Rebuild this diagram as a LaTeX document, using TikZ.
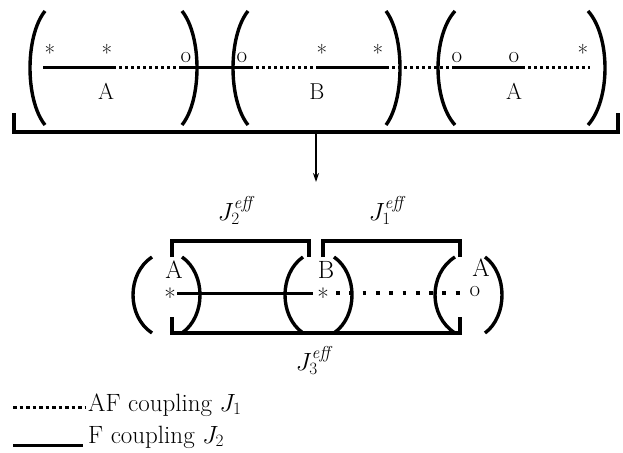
\documentclass[tikz,border=0pt]{standalone}
\usetikzlibrary{arrows.meta}
\newcommand\myparen[4]{\draw[paren] (#1,#3) .. controls ({#1+1.333*(#2-#1)},{#3+0.22*(#4-#3)}) and ({#1+1.333*(#2-#1)},{#3+0.78*(#4-#3)}) .. (#1,#4);}
\begin{document}
\begin{tikzpicture}[x=1pt,y=-1pt,
  paren/.style={line width=3.4pt},
  fbond/.style={line width=3pt},
  afbond/.style={line width=3pt, dash pattern=on 3.2pt off 2.8pt},
  afloose/.style={line width=3.2pt, dash pattern=on 3.8pt off 9.5pt},
  brk/.style={line width=3.2pt},
  lbl/.style={inner sep=0pt, anchor=base, font=\fontsize{23}{27}\selectfont},
  lblb/.style={inner sep=0pt, anchor=base, font=\fontsize{25}{30}\selectfont},
  lgd/.style={inner sep=0pt, anchor=base west, font=\fontsize{25}{30}\selectfont}]
\useasboundingbox (0,0) rectangle (623,452);
% ---------- top row ----------
\myparen{45}{30}{11}{125}
\myparen{182}{197}{11}{125}
\myparen{248}{233}{11}{125}
\myparen{386}{400}{11}{125}
\myparen{455}{438}{11}{125}
\myparen{588}{605}{11}{125}
\coordinate (t0) at (43,67);
\coordinate (t1) at (113,67);
\coordinate (t2) at (180,67);
\coordinate (t3) at (250,67);
\coordinate (t4) at (317,67);
\coordinate (t5) at (386,67);
\coordinate (t6) at (452,67);
\coordinate (t7) at (522,67);
\coordinate (t8) at (590,67);
\draw[fbond] (t0) -- (t1);
\draw[afbond] (t1) -- (t2);
\draw[fbond] (t2) -- (t3);
\draw[afbond] (t3) -- (t4);
\draw[fbond] (t4) -- (t5);
\draw[afbond] (t5) -- (t6);
\draw[fbond] (t6) -- (t7);
\draw[afbond] (t7) -- (t8);
\node[lbl] (s1) at (50,62) {*};
\node[lbl] (s2) at (107,62) {*};
\node[lbl] (o1) at (186,63) {o};
\node[lbl] (o2) at (242,63) {o};
\node[lbl] (s3) at (322,62) {*};
\node[lbl] (s4) at (378,62) {*};
\node[lbl] (o3) at (457,63) {o};
\node[lbl] (o4) at (514,63) {o};
\node[lbl] (s5) at (583,62) {*};
\node[lbl] (la1) at (106,99) {A};
\node[lbl] (lb1) at (317,99) {B};
\node[lbl] (la2) at (514,99) {A};
% big bracket and arrow
\coordinate (k1) at (14,113);
\coordinate (k2) at (14,132);
\coordinate (k3) at (618,132);
\coordinate (k4) at (618,113);
\draw[brk] (k1) -- (k2) -- (k3) -- (k4);
\coordinate (am) at (316,132);
\coordinate (ae) at (316,182);
\draw[line width=1.6pt, -{Stealth[length=9pt,width=6pt]}] (am) -- (ae);
% ---------- bottom row ----------
\myparen{152}{133}{257}{333}
\myparen{182}{200}{257}{333}
\myparen{303}{285}{257}{333}
\myparen{334}{352}{257}{333}
\myparen{455}{435}{257}{333}
\myparen{485}{502}{257}{333}
\coordinate (c1) at (172,257);
\coordinate (c2) at (172,241);
\coordinate (c3) at (309,241);
\coordinate (c4) at (309,257);
\coordinate (d1) at (323,257);
\coordinate (d2) at (323,241);
\coordinate (d3) at (460,241);
\coordinate (d4) at (460,257);
\coordinate (e1) at (172,317);
\coordinate (e2) at (172,333);
\coordinate (e3) at (460,333);
\coordinate (e4) at (460,317);
\draw[brk] (c1) -- (c2) -- (c3) -- (c4);
\draw[brk] (d1) -- (d2) -- (d3) -- (d4);
\draw[brk] (e1) -- (e2) -- (e3) -- (e4);
\coordinate (b0) at (177,293);
\coordinate (b1) at (313,293);
\coordinate (b2) at (336,293);
\coordinate (b3) at (465,293);
\draw[fbond] (b0) -- (b1);
\draw[afloose] (b2) -- (b3);
\node[lblb] (ba1) at (174,278) {A};
\node[lblb] (bb1) at (326,278) {B};
\node[lblb] (ba2) at (481,276) {A};
\node[lblb] (bs1) at (170,306) {*};
\node[lblb] (bs2) at (323,306) {*};
\node[lbl] (bo1) at (475,296) {o};
\node[lblb] (j2) at (237,220) {$J_2^{\mathit{eff}}$};
\node[lblb] (j1) at (388,220) {$J_1^{\mathit{eff}}$};
\node[lblb] (j3) at (315,370) {$J_3^{\mathit{eff}}$};
% ---------- legend ----------
\coordinate (g1) at (13,407);
\coordinate (g2) at (86,407);
\coordinate (h1) at (13,445);
\coordinate (h2) at (83,445);
\draw[line width=3pt, dash pattern=on 3.5pt off 3pt] (g1) -- (g2);
\draw[fbond] (h1) -- (h2);
\node[lgd] (lg1) at (88,411) {AF coupling $J_1$};
\node[lgd] (lg2) at (88,443) {F coupling $J_2$};
\end{tikzpicture}
\end{document}
